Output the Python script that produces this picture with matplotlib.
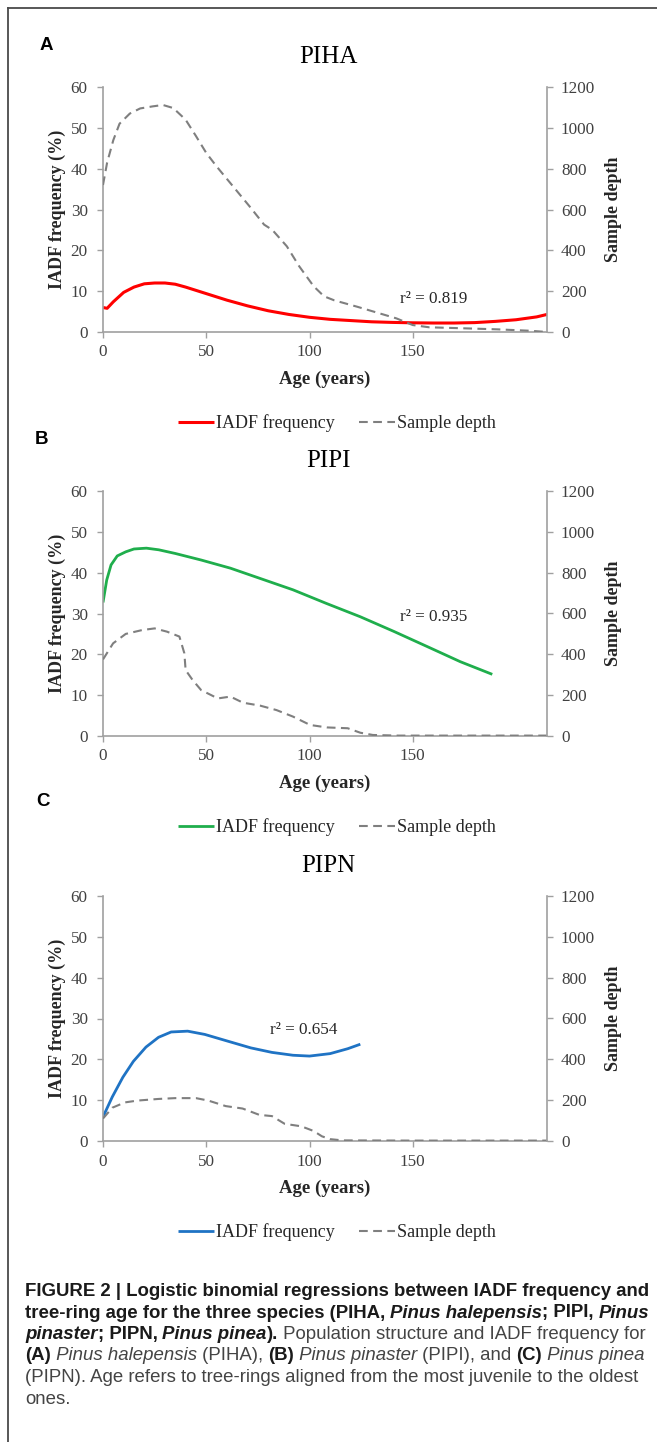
import matplotlib
matplotlib.use("Agg")
import matplotlib.pyplot as plt
from matplotlib.lines import Line2D

# ---------------- data ----------------
panel_letters = ["A", "B", "C"]
species_titles = ["PIHA", "PIPI", "PIPN"]
r2_labels = ["r\u00b2 = 0.819", "r\u00b2 = 0.935", "r\u00b2 = 0.654"]
r2_pos_age = [160, 160, 97]
r2_pos_iadf = [8.1, 29.1, 27.2]

x_ticks = [0, 50, 100, 150]
y_ticks_left = [0, 10, 20, 30, 40, 50, 60]
y_ticks_right = [0, 200, 400, 600, 800, 1000, 1200]

# Panel A - PIHA
a_age = [0, 2, 5, 10, 15, 20, 25, 30, 35, 40, 45, 50, 60, 70, 80, 90, 100, 110,
         120, 130, 140, 150, 160, 170, 180, 190, 200, 210, 215]
a_iadf = [6.0, 5.8, 7.4, 9.7, 11.0, 11.8, 12.0, 12.0, 11.7, 11.0, 10.2, 9.4, 7.8,
          6.4, 5.2, 4.3, 3.6, 3.1, 2.8, 2.5, 2.35, 2.25, 2.2, 2.2, 2.3, 2.6, 3.0, 3.7, 4.3]
a_depth_age = [0, 2, 5, 8, 13, 18, 24, 29, 34, 40, 45, 50, 55, 63, 71, 78, 82, 89,
               95, 102, 107, 112, 123, 134, 142, 150, 158, 175, 191, 207, 215]
a_depth = [720, 830, 940, 1020, 1070, 1095, 1105, 1112, 1097, 1040, 960, 877, 811,
           713, 615, 526, 500, 420, 322, 224, 175, 155, 124, 91, 67, 34, 23, 18, 13, 6, 0]

# Panel B - PIPI
b_age = [0, 1.8, 3.9, 6.9, 11, 15, 21, 27, 35, 47.5, 61.7, 76, 92, 108, 124.6,
         140.9, 157, 173, 188.5]
b_iadf = [32.7, 38.2, 41.9, 44.1, 45.1, 45.8, 46.0, 45.6, 44.7, 43.1, 41.1, 38.6,
          35.8, 32.5, 29.2, 25.6, 21.9, 18.2, 15.1]
b_depth_age = [0, 4.9, 11, 19, 25, 31, 37, 39.4, 40, 43.4, 47.5, 55.6, 61.7, 67.8,
               76, 84, 92, 100.3, 108.4, 118.5, 124.6, 130.7, 143, 180, 215]
b_depth = [375, 454, 500, 519, 527, 511, 487, 405, 323, 274, 225, 184, 193, 163,
           149, 127, 95, 54, 42, 38, 16, 5, 2, 2, 2]

# Panel C - PIPN
c_age = [0, 4.5, 9.6, 14.7, 20.8, 26.9, 33, 41, 49.3, 59.4, 71.6, 81.8, 92, 100,
         110, 118.5, 124.6]
c_iadf = [5.9, 10.8, 15.6, 19.5, 23.0, 25.4, 26.7, 26.9, 26.1, 24.6, 22.8, 21.7,
          21.0, 20.8, 21.4, 22.6, 23.7]
c_depth_age = [0, 4.5, 10.6, 16.7, 26.9, 35, 45, 51, 59.4, 67.6, 75.7, 81.8, 88, 96,
               102, 106, 110, 116, 150, 215]
c_depth = [110, 163, 189, 198, 206, 210, 210, 198, 171, 159, 128, 122, 84, 72, 49,
           23, 9, 3, 2, 2]

iadf_colors = ["#ff0000", "#1fae4c", "#1f73c4"]
depth_color = "#7f7f7f"

panels = [
    (a_age, a_iadf, a_depth_age, a_depth),
    (b_age, b_iadf, b_depth_age, b_depth),
    (c_age, c_iadf, c_depth_age, c_depth),
]

# ---------------- layout ----------------
W, H = 657, 1442
DPI = 100
SERIF = "Liberation Serif"
SANS = "Liberation Sans"
AX_COL = "#a0a0a0"
TICK_COL = "#404040"


def fx(x):
    return x / W


def fy(y):
    return 1 - y / H


fig = plt.figure(figsize=(W / DPI, H / DPI), dpi=DPI)
fig.patch.set_facecolor("white")

# frame box (left & top edges)
fig.add_artist(Line2D([fx(7.5), fx(7.5)], [fy(8), fy(H + 5)], color="#4a4a4a", lw=1.3))
fig.add_artist(Line2D([fx(7.5), fx(W + 5)], [fy(8), fy(8)], color="#4a4a4a", lw=1.3))

ax_tops = [87, 491, 896]
ax_h = 245
ax_left, ax_right = 103, 547
letter_y = [46, 440, 802]
letter_x = [46, 42, 43]
legend_offset = 336  # from axis top
age_offset = 292

for i, (ages, iadf, dages, depth) in enumerate(panels):
    top = ax_tops[i]
    bot = top + ax_h
    ax = fig.add_axes([fx(ax_left), fy(bot), (ax_right - ax_left) / W, ax_h / H])
    ax2 = ax.twinx()
    ax.set_xlim(0, 215)
    ax.set_ylim(0, 60)
    ax2.set_ylim(0, 1200)
    ax.patch.set_alpha(0)

    l1, = ax.plot(ages, iadf, color=iadf_colors[i], lw=2.0 if i else 2.2,
                  solid_capstyle="butt", label="IADF frequency")
    l2, = ax2.plot(dages, depth, color=depth_color, lw=1.5,
                   linestyle=(0, (4.2, 2.6)), label="Sample depth")

    for a in (ax, ax2):
        a.spines["top"].set_visible(False)
    ax.spines["right"].set_visible(False)
    ax2.spines["left"].set_visible(False)
    ax2.spines["bottom"].set_visible(False)
    for s in ("left", "bottom"):
        ax.spines[s].set_color(AX_COL)
        ax.spines[s].set_linewidth(1.2)
    ax2.spines["right"].set_color(AX_COL)
    ax2.spines["right"].set_linewidth(1.2)

    ax.set_xticks(x_ticks)
    ax.set_yticks(y_ticks_left)
    ax2.set_yticks(y_ticks_right)
    ax.tick_params(axis="both", direction="out", length=4, width=1.0, color=AX_COL,
                   labelcolor=TICK_COL, labelsize=12.3)
    ax.tick_params(axis="y", pad=7)
    ax.tick_params(axis="x", pad=5)
    ax2.tick_params(axis="y", direction="out", length=4, width=1.0, color=AX_COL,
                    labelcolor=TICK_COL, labelsize=12.3, pad=6)
    for lab in ax.get_xticklabels() + ax.get_yticklabels() + ax2.get_yticklabels():
        lab.set_fontfamily(SERIF)

    ax.text(r2_pos_age[i], r2_pos_iadf[i], r2_labels[i], family=SERIF, fontsize=12.3,
            color="#262626", ha="center", va="center")

    # axis labels
    fig.text(fx(57), fy(top + ax_h / 2), "IADF frequency (%)", rotation=90, family=SERIF,
             fontweight="bold", fontsize=13, color="#262626", ha="center", va="center")
    fig.text(fx(613), fy(top + ax_h / 2), "Sample depth", rotation=90, family=SERIF,
             fontweight="bold", fontsize=13, color="#262626", ha="center", va="center")
    fig.text(fx(325), fy(top + age_offset), "Age (years)", family=SERIF,
             fontweight="bold", fontsize=13.5, color="#262626", ha="center", va="center")

    # title & panel letter
    fig.text(fx(328), fy(top - 30), species_titles[i], family=SERIF, fontsize=18,
             color="black", ha="center", va="center")
    fig.text(fx(letter_x[i]), fy(letter_y[i]), panel_letters[i], family=SANS,
             fontweight="bold", fontsize=13.5, color="black", ha="center", va="center")

    fig.legend(handles=[l1, l2], loc="center",
               bbox_to_anchor=(fx(337), fy(top + legend_offset)), ncol=2, frameon=False,
               prop={"family": SERIF, "size": 13}, handlelength=2.0, handletextpad=0.12,
               columnspacing=1.3, labelcolor="#262626")

# ---------------- caption ----------------
B, R = "bold", "normal"
N, I = "normal", "italic"
DARK, GREY = "#1a1a1a", "#444444"
caption_lines = [
    [("FIGURE 2 | Logistic binomial regressions between IADF frequency and", B, N, DARK)],
    [("tree-ring age for the three species (PIHA, ", B, N, DARK),
     ("Pinus halepensis", B, I, DARK), ("; PIPI, ", B, N, DARK), ("Pinus", B, I, DARK)],
    [("pinaster", B, I, DARK), ("; PIPN, ", B, N, DARK), ("Pinus pinea", B, I, DARK),
     (").", B, N, DARK), (" Population structure and IADF frequency for", R, N, GREY)],
    [("(A)", B, N, DARK), (" Pinus halepensis", R, I, GREY), (" (PIHA), ", R, N, GREY),
     ("(B)", B, N, DARK), (" Pinus pinaster", R, I, GREY), (" (PIPI), and ", R, N, GREY),
     ("(C)", B, N, DARK), (" Pinus pinea", R, I, GREY)],
    [("(PIPN). Age refers to tree-rings aligned from the most juvenile to the oldest", R, N, GREY)],
    [("ones.", R, N, GREY)],
]

renderer = fig.canvas.get_renderer()


def run_width(text, weight, style, size):
    t1 = fig.text(0, 0, "|" + text + "|", family=SANS, fontweight=weight,
                  fontstyle=style, fontsize=size)
    t2 = fig.text(0, 0, "||", family=SANS, fontweight=weight, fontstyle=style,
                  fontsize=size)
    w = t1.get_window_extent(renderer).width - t2.get_window_extent(renderer).width
    t1.remove()
    t2.remove()
    return w


# fit first line to the measured width
w12 = run_width(caption_lines[0][0][0], B, N, 12)
cap_size = 12 * 622 / w12

cap_x0 = 25
cap_y0 = 1290
cap_dy = 21.5
for k, runs in enumerate(caption_lines):
    x = cap_x0
    yb = cap_y0 + k * cap_dy + 6
    for text, weight, style, col in runs:
        fig.text(fx(x), fy(yb), text, family=SANS, fontweight=weight, fontstyle=style,
                 fontsize=cap_size, color=col, ha="left", va="baseline")
        x += run_width(text, weight, style, cap_size)

fig.savefig("out.png", dpi=DPI, facecolor="white")
